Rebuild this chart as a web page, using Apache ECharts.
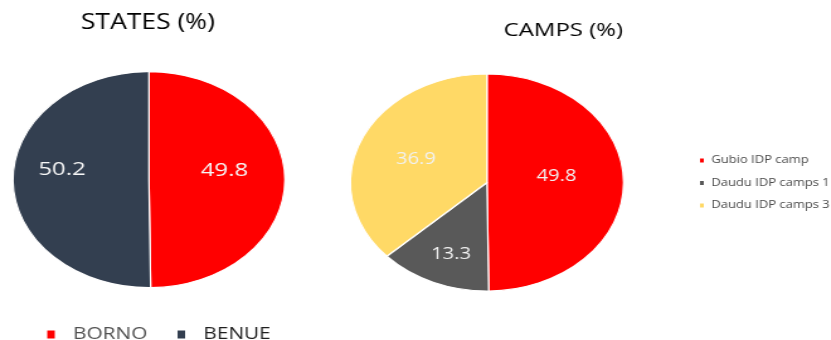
<!DOCTYPE html>
<html>
<head>
<meta charset="utf-8">
<script src="https://cdn.jsdelivr.net/npm/echarts@6/dist/echarts.min.js"></script>
<style>
  html, body { margin: 0; padding: 0; background: #ffffff; overflow: hidden; }
  /* the chart is laid out narrower and widened horizontally, giving oval pies */
  #chart { width: 660px; height: 340px; transform: scaleX(1.259); transform-origin: 0 0; }
</style>
</head>
<body>
<div id="chart"></div>
<script>
// States share (%)
const stateNames = ['BORNO', 'BENUE'];
const stateValues = [49.8, 50.2];

// Camps share (%)
const campNames = ['Gubio IDP camp', 'Daudu IDP camps 1', 'Daudu IDP camps 3'];
const campValues = [49.8, 13.3, 36.9];

const stateColors = ['#FF0000', '#333F50'];
const campColors = ['#FF0000', '#595959', '#FFD966'];

// small nudges of the value labels away from the default inside spot
const stateLabelShift = [[3, -9], [-12, -10]];
const campLabelShift = [[-2, -6], [-6, 19], [-4, 0]];

const FONT = '"Open Sans", "Noto Sans", sans-serif';

function pieData(names, values, colors) {
  return names.map((n, i) => ({ name: n, value: values[i], itemStyle: { color: colors[i] } }));
}

const chart = echarts.init(document.getElementById('chart'), null, { renderer: 'canvas' });

chart.setOption({
  animation: false,
  backgroundColor: '#ffffff',
  title: [
    {
      text: 'STATES (%)', left: 117.5, top: 13, textAlign: 'center', padding: 0,
      textStyle: { fontFamily: FONT, fontSize: 21, fontWeight: 'normal', color: '#000000' }
    },
    {
      text: 'CAMPS (%)', left: 447.5, top: 21, textAlign: 'center', padding: 0,
      textStyle: { fontFamily: FONT, fontSize: 19, fontWeight: 'normal', color: '#000000' }
    }
  ],
  legend: [
    {
      orient: 'horizontal', left: 35.5, top: 326, padding: 0,
      icon: 'rect', itemWidth: 8, itemHeight: 10, itemGap: 22,
      data: [
        { name: stateNames[0], textStyle: { color: '#505050' } },
        { name: stateNames[1], textStyle: { color: '#1f1f1f' } }
      ],
      formatter: name => '  ' + name,
      textStyle: { fontFamily: FONT, fontSize: 16.5 }
    },
    {
      orient: 'vertical', left: 554, top: 155.5, padding: 0,
      icon: 'rect', itemWidth: 5, itemHeight: 6, itemGap: 12.5,
      data: campNames,
      textStyle: { fontFamily: FONT, fontSize: 10.3, color: '#4a4a4a' }
    }
  ],
  series: [
    {
      type: 'pie',
      center: [118.3, 179.7],
      radius: [0, 108],
      startAngle: 90,
      clockwise: true,
      silent: true,
      data: pieData(stateNames, stateValues, stateColors),
      itemStyle: { borderColor: '#ffffff', borderWidth: 1.2 },
      label: {
        show: true, position: 'inside', formatter: p => p.value.toFixed(1),
        fontFamily: FONT, fontSize: 19, color: '#f7f7f7'
      },
      labelLine: { show: false },
      labelLayout: p => ({ dx: stateLabelShift[p.dataIndex][0], dy: stateLabelShift[p.dataIndex][1] })
    },
    {
      type: 'pie',
      center: [386.8, 182.5],
      radius: [0, 108.5],
      startAngle: 90,
      clockwise: true,
      silent: true,
      data: pieData(campNames, campValues, campColors),
      itemStyle: { borderColor: '#ffffff', borderWidth: 1.2 },
      label: {
        show: true, position: 'inside', formatter: p => p.value.toFixed(1),
        fontFamily: FONT, fontSize: 16, color: '#f2f2f2'
      },
      labelLine: { show: false },
      labelLayout: p => ({ dx: campLabelShift[p.dataIndex][0], dy: campLabelShift[p.dataIndex][1] })
    }
  ]
});
</script>
</body>
</html>
